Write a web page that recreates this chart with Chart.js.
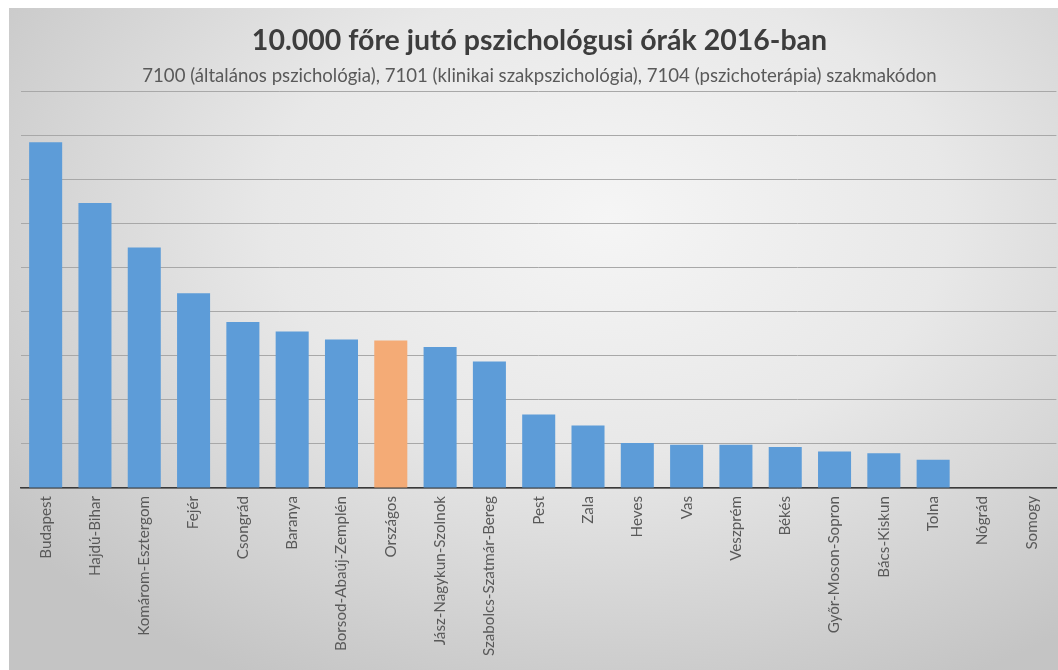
<!DOCTYPE html>
<html>
<head>
<meta charset="utf-8">
<script src="https://cdn.jsdelivr.net/npm/chart.js@4/dist/chart.umd.min.js"></script>
<style>
  html, body { margin: 0; padding: 0; background: #ffffff; width: 1058px; height: 670px; overflow: hidden; }
  #wrap { position: absolute; left: 9px; top: 8px; width: 1049px; height: 662px; }
</style>
</head>
<body>
<div id="wrap"><canvas id="c"></canvas></div>
<script>
const categories = ["Budapest", "Hajdú-Bihar", "Komárom-Esztergom", "Fejér", "Csongrád", "Baranya",
  "Borsod-Abaúj-Zemplén", "Országos", "Jász-Nagykun-Szolnok", "Szabolcs-Szatmár-Bereg", "Pest", "Zala",
  "Heves", "Vas", "Veszprém", "Békés", "Győr-Moson-Sopron", "Bács-Kiskun", "Tolna", "Nógrád", "Somogy"];
const hours = [785, 647, 546, 442, 377, 355, 337, 335, 320, 287, 167, 142, 102, 98, 98, 93, 83, 79, 64, 0, 0];
const highlighted = ["Országos"];
const titleText = "10.000 főre jutó pszichológusi órák 2016-ban";
const subtitleText = "7100 (általános pszichológia), 7101 (klinikai szakpszichológia), 7104 (pszichoterápia) szakmakódon";
const yMax = 900;
const yStep = 100;

const bgPlugin = {
  id: 'bg',
  beforeDraw(chart) {
    const ctx = chart.ctx;
    const w = chart.width, h = chart.height;
    ctx.save();
    ctx.fillStyle = '#c8c8c8';
    ctx.fillRect(0, 0, w, h);
    ctx.translate(600, 210);
    ctx.scale(1.45, 1);
    const g = ctx.createRadialGradient(0, 0, 0, 0, 0, 520);
    g.addColorStop(0, '#f5f5f5');
    g.addColorStop(0.45, '#e8e8e8');
    g.addColorStop(1, '#c4c4c4');
    ctx.fillStyle = g;
    ctx.fillRect(-600, -300, 1200, 800);
    ctx.restore();
  }
};

new Chart(document.getElementById('c'), {
  type: 'bar',
  data: {
    labels: categories,
    datasets: [{
      data: hours,
      backgroundColor: (c) => highlighted.includes(categories[c.dataIndex]) ? '#f4ab76' : '#5d9cd8',
      borderWidth: 0,
      barPercentage: 0.67,
      categoryPercentage: 1.0
    }]
  },
  options: {
    responsive: true,
    maintainAspectRatio: false,
    animation: false,
    layout: { padding: { left: 12, right: 0, top: 0, bottom: 0 } },
    plugins: {
      legend: { display: false },
      tooltip: { enabled: false },
      title: {
        display: true,
        text: titleText,
        color: '#3d3d3d',
        font: { family: 'Lato', size: 28.5, weight: 'bold', lineHeight: 1.2 },
        padding: { top: 16, bottom: 7 }
      },
      subtitle: {
        display: true,
        text: subtitleText,
        color: '#595959',
        font: { family: 'Lato', size: 18.6, lineHeight: 1.2 },
        padding: { top: 0, bottom: 4 }
      }
    },
    scales: {
      x: {
        grid: { display: false, drawTicks: false },
        border: { display: true, color: '#3a3a3a', width: 1.5 },
        ticks: {
          color: '#595959',
          font: { family: 'Lato', size: 15.2 },
          minRotation: 90, maxRotation: 90,
          autoSkip: false,
          padding: 8
        },
        afterFit: (s) => { s.height = 182; }
      },
      y: {
        min: 0, max: yMax,
        ticks: { display: false, stepSize: yStep },
        grid: { color: '#a8a8a8', lineWidth: 1, drawTicks: false },
        border: { display: false },
        afterFit: (s) => { s.width = 0; }
      }
    }
  },
  plugins: [bgPlugin]
});
</script>
</body>
</html>
